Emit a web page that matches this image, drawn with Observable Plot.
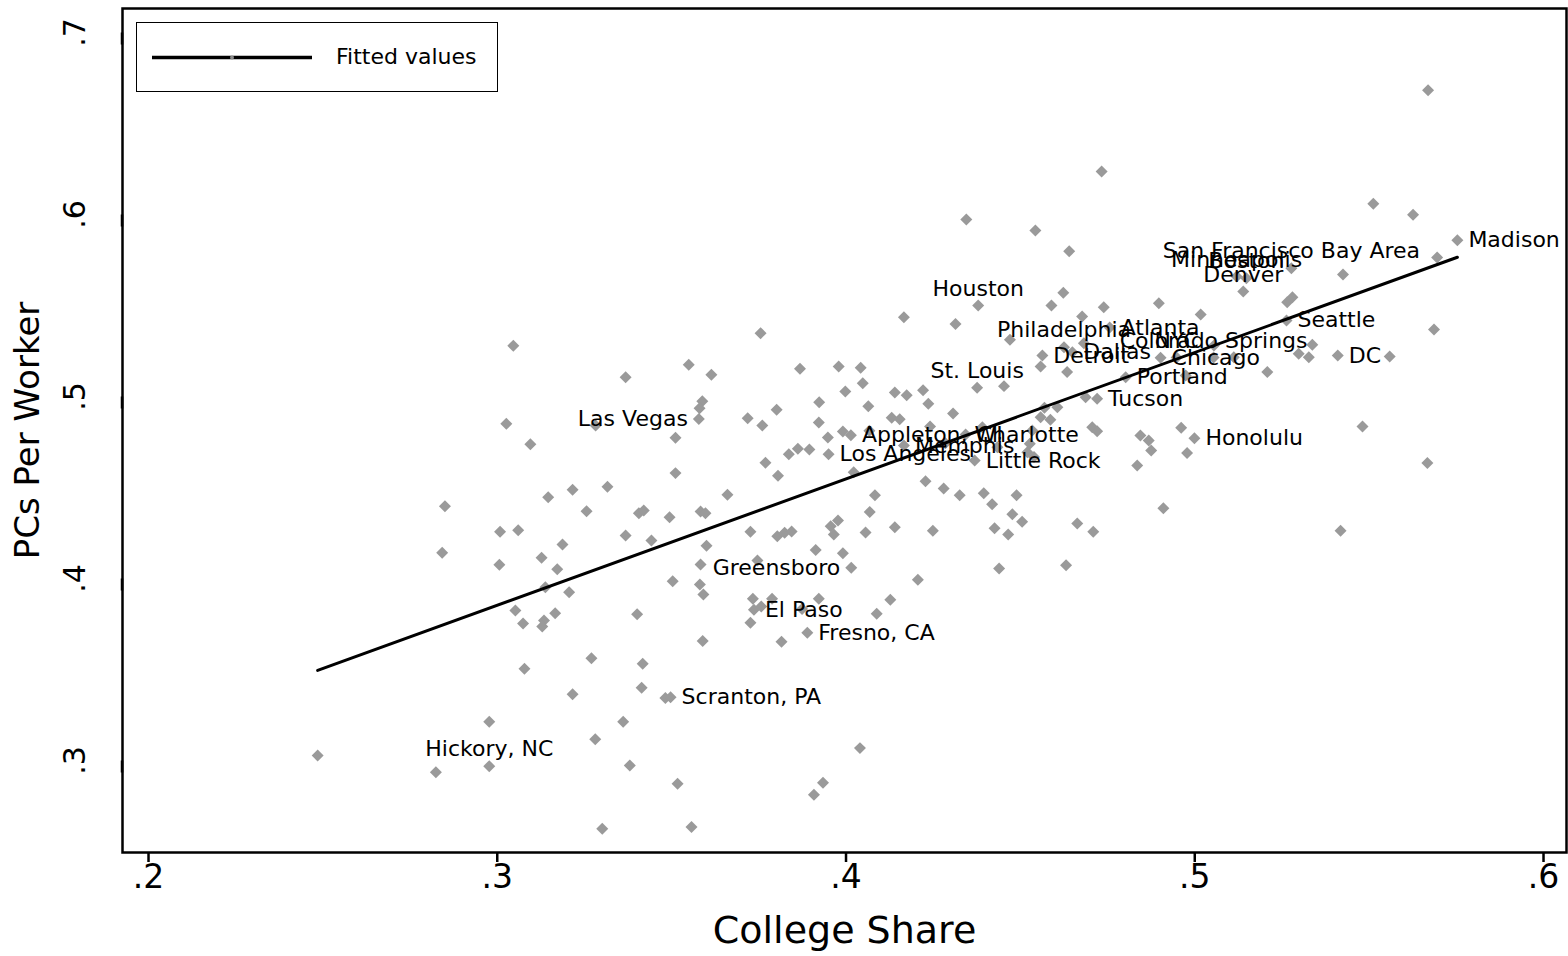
<!DOCTYPE html>
<html>
<head>
<meta charset="utf-8">
<script src="https://cdn.jsdelivr.net/npm/d3@7"></script>
<script src="https://cdn.jsdelivr.net/npm/@observablehq/plot@0.6"></script>
<style>
  body { margin: 0; background: #fff; }
  #chart { position: relative; width: 1568px; height: 956px; font-family: "DejaVu Sans", sans-serif; }
  #legend { position: absolute; left: 136px; top: 22px; width: 362px; height: 70px; box-sizing: border-box;
            border: 1.5px solid #000; background: #fff; }
  #legend svg { position: absolute; left: 0; top: 0; }
  #legend span { position: absolute; left: 199px; top: 0; line-height: 67px; font-size: 22px; color: #000; white-space: nowrap; }
</style>
</head>
<body>
<div id="chart"></div>
<script>
// ---- Unlabeled metro areas: college share (x) and PCs per worker (y)
const collegeShare = [
  0.3046, 0.3368, 0.3026, 0.3095, 0.3282, 0.2850, 0.3146, 0.3216, 0.3316, 0.3256,
  0.3406, 0.3420, 0.3008, 0.3060, 0.3368, 0.2842, 0.3187, 0.3127, 0.3006, 0.3172,
  0.3138, 0.3206, 0.3052, 0.3074, 0.3134, 0.3129, 0.3166, 0.3401, 0.3078, 0.3270,
  0.3216, 0.3417, 0.3414, 0.2977, 0.3361, 0.3281, 0.2485, 0.2824, 0.3380, 0.3301,
  0.3755, 0.3549, 0.3614, 0.3868, 0.3979, 0.4042, 0.4048, 0.3998, 0.4140, 0.4174,
  0.4221, 0.4236, 0.4307, 0.4064, 0.3923, 0.3801, 0.3588, 0.3580, 0.3718, 0.3760,
  0.3922, 0.4131, 0.4154, 0.4241, 0.3511, 0.3948, 0.3991, 0.4067, 0.3862, 0.3895,
  0.3836, 0.4285, 0.3769, 0.3805, 0.3511, 0.4022, 0.4228, 0.4280, 0.4326, 0.4083,
  0.3660, 0.3494, 0.3583, 0.3597, 0.4068, 0.3442, 0.3600, 0.3726, 0.3803, 0.3824,
  0.3844, 0.3956, 0.3977, 0.3965, 0.4056, 0.4140, 0.4249, 0.3913, 0.3991, 0.3746,
  0.3583, 0.3581, 0.3503, 0.4206, 0.3591, 0.3733, 0.3788, 0.3757, 0.3726, 0.3922,
  0.3874, 0.4127, 0.4088, 0.3815, 0.3589, 0.3482, 0.4040, 0.3934, 0.3908, 0.3517,
  0.3557, 0.4589, 0.4739, 0.4897, 0.4677, 0.5017, 0.4314, 0.4470, 0.4682, 0.4558,
  0.4634, 0.4453, 0.4974, 0.5055, 0.5112, 0.5208, 0.4687, 0.4606, 0.4569, 0.4558,
  0.4586, 0.4534, 0.4706, 0.4720, 0.4844, 0.4868, 0.4875, 0.4961, 0.4978, 0.4835,
  0.4391, 0.4434, 0.4520, 0.4539, 0.4527, 0.4733, 0.4345, 0.4543, 0.4640, 0.4623,
  0.5669, 0.5512, 0.5626, 0.5695, 0.5425, 0.5265, 0.5280, 0.5337, 0.5298, 0.5327,
  0.5559, 0.5686, 0.4395, 0.4489, 0.4419, 0.4477, 0.4505, 0.4426, 0.4465, 0.4663,
  0.4709, 0.4910, 0.5418, 0.4439, 0.4631, 0.5667, 0.4166, 0.5481
];
const pcsPerWorker = [
  0.5279, 0.5106, 0.4850, 0.4738, 0.4841, 0.4397, 0.4447, 0.4487, 0.4504, 0.4370,
  0.4359, 0.4374, 0.4257, 0.4265, 0.4236, 0.4141, 0.4187, 0.4114, 0.4075, 0.4051,
  0.3952, 0.3925, 0.3824, 0.3753, 0.3769, 0.3736, 0.3809, 0.3804, 0.3504, 0.3562,
  0.3364, 0.3531, 0.3400, 0.3213, 0.3213, 0.3117, 0.3027, 0.2936, 0.2973, 0.2625,
  0.5348, 0.5174, 0.5119, 0.5152, 0.5165, 0.5158, 0.5073, 0.5027, 0.5022, 0.5007,
  0.5035, 0.4960, 0.4907, 0.4947, 0.4969, 0.4927, 0.4974, 0.4936, 0.4881, 0.4841,
  0.4857, 0.4883, 0.4875, 0.4835, 0.4773, 0.4775, 0.4808, 0.4812, 0.4713, 0.4709,
  0.4683, 0.4743, 0.4636, 0.4564, 0.4579, 0.4584, 0.4535, 0.4495, 0.4458, 0.4458,
  0.4460, 0.4337, 0.4368, 0.4359, 0.4366, 0.4209, 0.4180, 0.4257, 0.4232, 0.4251,
  0.4258, 0.4287, 0.4319, 0.4242, 0.4253, 0.4282, 0.4262, 0.4156, 0.4139, 0.4099,
  0.4077, 0.3967, 0.3985, 0.3993, 0.3912, 0.3889, 0.3889, 0.3846, 0.3757, 0.3889,
  0.3833, 0.3883, 0.3806, 0.3652, 0.3656, 0.3344, 0.3068, 0.2878, 0.2812, 0.2872,
  0.2634, 0.5500, 0.5491, 0.5513, 0.5440, 0.5451, 0.5399, 0.5312, 0.5293, 0.5165,
  0.5134, 0.5057, 0.5115, 0.5280, 0.5216, 0.5134, 0.4996, 0.4941, 0.4938, 0.4886,
  0.4872, 0.4813, 0.4831, 0.4809, 0.4786, 0.4758, 0.4703, 0.4828, 0.4689, 0.4621,
  0.4831, 0.4721, 0.4694, 0.4667, 0.4740, 0.6236, 0.5973, 0.5912, 0.5798, 0.5570,
  0.6683, 0.6059, 0.5998, 0.5764, 0.5670, 0.5518, 0.5546, 0.5284, 0.5235, 0.5216,
  0.5220, 0.5368, 0.4469, 0.4458, 0.4408, 0.4353, 0.4312, 0.4276, 0.4242, 0.4302,
  0.4257, 0.4386, 0.4262, 0.4055, 0.4073, 0.4634, 0.5436, 0.4835
];

// ---- Labeled metro areas (label position as a Stata clock position: 3 right, 9 left, 12 above)
const cityNames = [
  "Madison", "DC", "Seattle", "San Francisco Bay Area", "Minneapolis", "Boston", "Denver",
  "Colorado Springs", "NYC", "Atlanta", "Philadelphia", "Chicago", "Portland", "Detroit",
  "Dallas", "Houston", "St. Louis", "Tucson", "Honolulu", "Appleton, WI", "Charlotte",
  "Los Angeles", "Memphis", "Little Rock", "Las Vegas", "Greensboro", "El Paso",
  "Fresno, CA", "Scranton, PA", "Hickory, NC"
];
const cityShare = [
  0.5753, 0.5410, 0.5263, 0.5277, 0.5120, 0.5148, 0.5139,
  0.5054, 0.4948, 0.4756, 0.4625, 0.4902, 0.4802, 0.4563,
  0.4649, 0.4379, 0.4376, 0.4720, 0.4999, 0.4014, 0.4343,
  0.3950, 0.4166, 0.4369, 0.3578, 0.4015, 0.3736,
  0.3889, 0.3497, 0.2977
];
const cityPcs = [
  0.5859, 0.5225, 0.5418, 0.5705, 0.5659, 0.5650, 0.5577,
  0.5214, 0.5214, 0.5379, 0.5271, 0.5213, 0.5106, 0.5225,
  0.5243, 0.5500, 0.5048, 0.4987, 0.4771, 0.4787, 0.4791,
  0.4683, 0.4731, 0.4648, 0.4877, 0.4059, 0.3828,
  0.3702, 0.3348, 0.2969
];
const cityLabelPos = [
  3, 3, 3, 12, 12, 12, 12,
  12, 12, 3, 12, 3, 3, 3,
  3, 12, 12, 3, 3, 3, 3,
  3, 3, 3, 9, 9, 3,
  3, 3, 12
];

// ---- Fitted values (linear fit endpoints)
const fitShare = [0.2485, 0.5753];
const fitPcs = [0.3495, 0.5765];

// ---- Axes
const xTickValues = [0.2, 0.3, 0.4, 0.5, 0.6];
const xTickLabels = [".2", ".3", ".4", ".5", ".6"];
const yTickValues = [0.3, 0.4, 0.5, 0.6, 0.7];
const yTickLabels = [".3", ".4", ".5", ".6", ".7"];
const xDomain = [0.19254, 0.60659];
const yDomain = [0.24945, 0.71319];
const xTitle = "College Share";
const yTitle = "PCs Per Worker";
const legendLabel = "Fitted values";

// ---- Build tables
const cities = cityNames.map((name, i) => ({name, x: cityShare[i], y: cityPcs[i], pos: cityLabelPos[i]}));
const points = collegeShare.map((x, i) => ({x, y: pcsPerWorker[i]}))
  .concat(cities.map(c => ({x: c.x, y: c.y})));
const fit = fitShare.map((x, i) => ({x, y: fitPcs[i]}));

const labelFont = 22;
const chart = Plot.plot({
  width: 1568,
  height: 956,
  marginLeft: 122,
  marginRight: 2,
  marginTop: 8,
  marginBottom: 104,
  x: {domain: xDomain},
  y: {domain: yDomain},
  style: {fontFamily: "DejaVu Sans", background: "white", color: "black"},
  marks: [
    Plot.dot(points, {x: "x", y: "y", symbol: "diamond2", r: 5.4, fill: "#9a9a9a", stroke: "none"}),
    Plot.text(cities.filter(c => c.pos === 3), {x: "x", y: "y", text: "name", textAnchor: "start", dx: 11, fontSize: labelFont, fill: "black"}),
    Plot.text(cities.filter(c => c.pos === 9), {x: "x", y: "y", text: "name", textAnchor: "end", dx: -11, fontSize: labelFont, fill: "black"}),
    Plot.text(cities.filter(c => c.pos === 12), {x: "x", y: "y", text: "name", textAnchor: "middle", dy: -17, fontSize: labelFont, fill: "black"}),
    Plot.line(fit, {x: "x", y: "y", stroke: "black", strokeWidth: 3}),
    Plot.frame({stroke: "black", strokeWidth: 2.5}),
    Plot.axisX({ticks: xTickValues, tickFormat: d => xTickLabels[xTickValues.indexOf(d)], tickSize: 10, tickPadding: 2,
                fontSize: 33, strokeWidth: 2.5, label: null}),
    Plot.axisY({ticks: yTickValues, tickFormat: d => yTickLabels[yTickValues.indexOf(d)], tickSize: 12, tickPadding: 35,
                fontSize: 30, rotate: -90, textAnchor: "middle", strokeWidth: 2.5, label: null}),
    Plot.text([xTitle], {frameAnchor: "bottom", dy: 78, textAnchor: "middle", lineAnchor: "middle", fontSize: 38, fill: "black"}),
    Plot.text([yTitle], {frameAnchor: "left", dx: -94, rotate: -90, textAnchor: "middle", lineAnchor: "middle", fontSize: 34, fill: "black"})
  ]
});

const container = document.getElementById("chart");
container.appendChild(chart);

// Legend (inside the plot area, top-left)
const legend = document.createElement("div");
legend.id = "legend";
legend.innerHTML = `<svg width="190" height="67"><line x1="15" y1="34.5" x2="175" y2="34.5" stroke="#000" stroke-width="3.5"/><circle cx="95" cy="34.5" r="2" fill="#8a8a8a"/></svg><span>${legendLabel}</span>`;
container.appendChild(legend);
</script>
</body>
</html>
